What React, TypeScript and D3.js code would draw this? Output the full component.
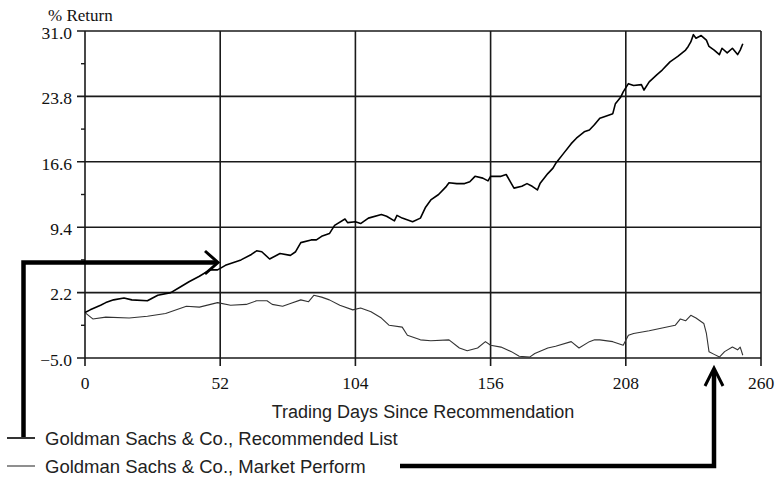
import React from "react";
import * as d3 from "d3";

const days = [0, 2, 6, 8, 11, 15, 18, 24, 28, 33, 36, 40, 44, 48, 51, 54, 60, 64, 66, 68, 71, 75, 79, 81, 83, 87, 89, 91, 94, 96, 100, 101, 104, 106, 109, 114, 116, 119, 120, 122, 126, 129, 131, 133, 136, 139, 140, 143, 146, 148, 150, 153, 155, 156, 160, 162, 164, 165, 168, 170, 172, 174, 175, 178, 180, 181, 184, 187, 189, 192, 194, 196, 198, 200, 203, 204, 206, 207, 209, 211, 214, 215, 217, 220, 222, 225, 228, 231, 232, 233, 234, 235, 237, 239, 240, 242, 244, 245, 247, 249, 251, 252, 253];
const recommended = [0.0, 0.3, 0.8, 1.1, 1.4, 1.6, 1.4, 1.3, 1.9, 2.2, 2.7, 3.4, 4.0, 4.7, 4.7, 5.2, 5.8, 6.4, 6.8, 6.7, 5.9, 6.5, 6.3, 6.7, 7.7, 8.0, 8.0, 8.4, 8.7, 9.6, 10.3, 9.9, 10.0, 9.8, 10.4, 10.8, 10.6, 10.1, 10.7, 10.4, 10.0, 10.4, 11.6, 12.4, 13.0, 13.9, 14.3, 14.2, 14.2, 14.4, 15.0, 14.8, 14.5, 15.0, 15.0, 15.2, 14.2, 13.7, 13.9, 14.2, 13.9, 13.5, 14.2, 15.3, 15.9, 16.4, 17.5, 18.6, 19.2, 19.9, 20.1, 20.7, 21.4, 21.6, 21.9, 23.0, 23.7, 24.3, 25.2, 25.0, 25.1, 24.5, 25.4, 26.2, 26.7, 27.6, 28.2, 28.9, 29.3, 29.8, 30.6, 30.2, 30.5, 30.0, 29.3, 28.9, 28.4, 29.1, 28.6, 29.1, 28.4, 28.9, 29.6];

const mpDays = [0, 3, 8, 17, 24, 31, 39, 44, 51, 56, 62, 66, 70, 72, 76, 79, 83, 86, 88, 91, 94, 98, 103, 106, 110, 114, 117, 122, 124, 129, 133, 140, 144, 147, 151, 154, 156, 160, 164, 167, 171, 173, 178, 181, 187, 190, 194, 196, 198, 203, 207, 209, 211, 217, 222, 227, 229, 231, 233, 235, 238, 239, 240, 242, 244, 246, 249, 251, 252, 253];
const marketPerform = [0.0, -0.7, -0.5, -0.6, -0.4, -0.1, 0.7, 0.6, 1.1, 0.8, 0.9, 1.3, 1.3, 0.9, 0.7, 1.0, 1.4, 1.2, 1.9, 1.7, 1.4, 0.8, 0.3, 0.5, 0.1, -0.6, -1.4, -1.6, -2.5, -3.0, -3.1, -3.0, -3.9, -4.2, -3.9, -3.2, -3.6, -3.8, -4.3, -4.8, -4.9, -4.5, -3.9, -3.7, -3.2, -3.9, -3.2, -3.0, -3.0, -3.2, -3.6, -2.5, -2.3, -2.0, -1.7, -1.4, -0.7, -0.9, -0.3, -0.6, -1.2, -2.3, -4.3, -4.6, -4.9, -4.3, -3.8, -4.1, -3.8, -4.7];

const yTicks = [-5.0, 2.2, 9.4, 16.6, 23.8, 31.0];
const xTicks = [0, 52, 104, 156, 208, 260];
const yTitle = "% Return";
const xTitle = "Trading Days Since Recommendation";
const legendLabels = ["Goldman Sachs & Co., Recommended List", "Goldman Sachs & Co., Market Perform"];

export default function App() {
  const left = 85, right = 761, top = 31, bottom = 358;
  const x = d3.scaleLinear().domain([0, 260]).range([left, right]);
  const y = d3.scaleLinear().domain([-5, 31]).range([bottom, top]);
  const fmt = d3.format(".1f");
  const minorY = yTicks.slice(0, -1).map((t, i) => (t + yTicks[i + 1]) / 2);

  const recPts: [number, number][] = days.map((d, i) => [d, recommended[i]]);
  const mpPts: [number, number][] = mpDays.map((d, i) => [d, marketPerform[i]]);
  const line = d3.line<[number, number]>().x((p) => x(p[0])).y((p) => y(p[1]));

  const serif = "'Liberation Serif', 'Times New Roman', serif";
  const sans = "'Liberation Sans', Arial, sans-serif";
  const gridC = "#1a1a1a";

  return (
    <svg width={775} height={477} style={{ position: "absolute", left: 0, top: 0, background: "#fff" }}>
      <rect x={0} y={0} width={775} height={477} fill="#fff" />
      {/* gridlines */}
      {yTicks.map((t) => (
        <line key={"gy" + t} x1={left - 8} x2={right} y1={y(t)} y2={y(t)} stroke={gridC} strokeWidth={1.6} />
      ))}
      {xTicks.map((t) => (
        <line key={"gx" + t} x1={x(t)} x2={x(t)} y1={top} y2={bottom + 8} stroke={gridC} strokeWidth={1.6} />
      ))}
      {minorY.map((t) => (
        <line key={"my" + t} x1={left - 4} x2={left} y1={y(t)} y2={y(t)} stroke={gridC} strokeWidth={1.4} />
      ))}
      {/* tick labels */}
      {yTicks.map((t) => (
        <text key={"ly" + t} x={72} y={y(t) + 1.5} dy="0.36em" textAnchor="end" fontFamily={serif} fontSize={17.5} fill="#111">
          {fmt(t)}
        </text>
      ))}
      {xTicks.map((t) => (
        <text key={"lx" + t} x={x(t)} y={389} textAnchor="middle" fontFamily={serif} fontSize={17.5} fill="#111">
          {t}
        </text>
      ))}
      <text x={48} y={21} fontFamily={serif} fontSize={17} fill="#111">{yTitle}</text>
      <text x={(left + right) / 2} y={418} textAnchor="middle" fontFamily={sans} fontSize={18} fill="#222">{xTitle}</text>

      {/* series */}
      <path d={line(mpPts) || ""} fill="none" stroke="#333" strokeWidth={1.1} strokeLinejoin="round" />
      <path d={line(recPts) || ""} fill="none" stroke="#000" strokeWidth={1.6} strokeLinejoin="round" />

      {/* legend */}
      <line x1={7} x2={35} y1={438} y2={438} stroke="#000" strokeWidth={1.6} />
      <text x={45} y={444.5} fontFamily={sans} fontSize={18.5} fill="#222">{legendLabels[0]}</text>
      <line x1={7} x2={35} y1={466} y2={466} stroke="#333" strokeWidth={1.1} />
      <text x={45} y={472.5} fontFamily={sans} fontSize={18.5} fill="#222">{legendLabels[1]}</text>

      {/* annotation arrows */}
      <path d="M23.5,437 L23.5,262.5 L216,262.5" fill="none" stroke="#000" strokeWidth={4.5} strokeLinejoin="miter" />
      <path d="M205,251 L218,262.5 L205,274" fill="none" stroke="#000" strokeWidth={3} />
      <path d="M400,466 L714,466 L714,371" fill="none" stroke="#000" strokeWidth={4.5} strokeLinejoin="miter" />
      <path d="M705,386 L714,368 L723,386" fill="none" stroke="#000" strokeWidth={3} />
    </svg>
  );
}
